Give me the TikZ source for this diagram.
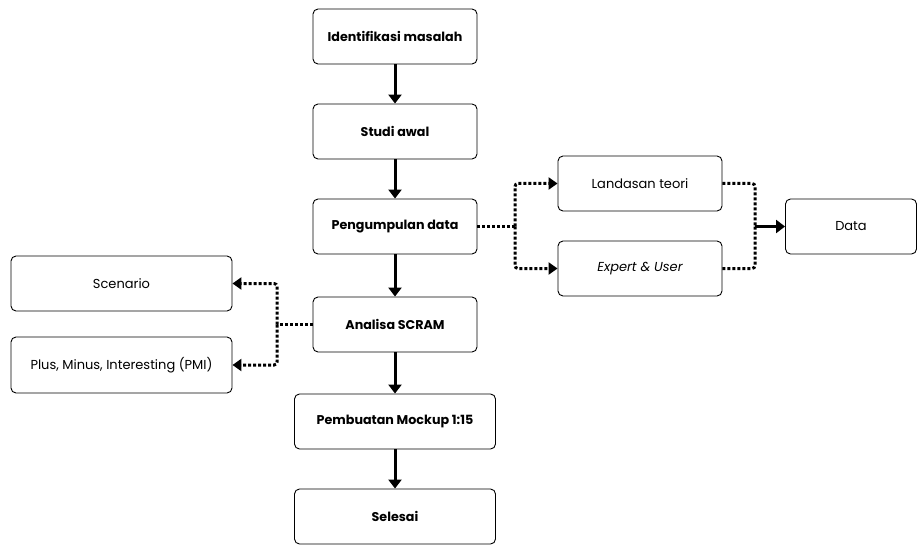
\documentclass[tikz,border=0pt]{standalone}
\usepackage{fontspec}
\setmainfont{Poppins}
\usetikzlibrary{arrows.meta}
\begin{document}
\begin{tikzpicture}[x=1pt,y=-1pt,
  box/.style={draw=black, line width=0.9pt, rounded corners=5pt, fill=white, minimum width=164pt, minimum height=55pt, inner sep=0pt, font=\fontsize{13pt}{15pt}\selectfont},
  mainbox/.style={box, font=\fontsize{12.7pt}{15pt}\selectfont\bfseries},
  solidarrow/.style={line width=3pt, -{Triangle[length=9pt,width=13pt]}},
  dotline/.style={line width=3pt, dash pattern=on 3pt off 2pt, rounded corners=3pt},
  dotarrow/.style={dotline, -{Triangle[length=9pt,width=12pt]}}]
\useasboundingbox (0,0) rectangle (917,545);
\node[mainbox] (a) at (395,36.5) {Identifikasi masalah};
\node[mainbox] (b) at (395,131.5) {Studi awal};
\node[mainbox] (c) at (395,226.5) {Pengumpulan data};
\node[mainbox] (d) at (395,324.5) {Analisa SCRAM};
\node[mainbox, minimum width=201pt] (e) at (395,421.5) {Pembuatan Mockup 1:15};
\node[mainbox, minimum width=201pt] (f) at (395,516.5) {Selesai};
\node[box] (l) at (640,183.5) {Landasan teori};
\node[box] (x) at (640,268.5) {\itshape Expert \& User};
\node[box, minimum width=131pt] (g) at (851,226.5) {Data};
\node[box, minimum width=221pt] (s) at (121.5,283.5) {Scenario};
\node[box, minimum width=221pt, minimum height=56pt] (p) at (121.5,365) {Plus, Minus, Interesting (PMI)};
\coordinate (j1) at (515,226.5);
\coordinate (j2) at (755,226.5);
\coordinate (j3) at (277,324.5);
\draw[solidarrow] (a) -- (b);
\draw[solidarrow] (b) -- (c);
\draw[solidarrow] (c) -- (d);
\draw[solidarrow] (d) -- (e);
\draw[solidarrow] (e) -- (f);
\draw[dotline] (c.east) -- (j1);
\draw[dotarrow] (j1) |- (l.west);
\draw[dotarrow] (j1) |- (x.west);
\draw[dotline] (l.east) -| (j2);
\draw[dotline] (x.east) -| (j2);
\draw[solidarrow, line width=2.4pt] (j2) -- (g.west);
\draw[dotline] (d.west) -- (j3);
\draw[dotarrow] (j3) |- (s.east);
\draw[dotarrow] (j3) |- (p.east);
\end{tikzpicture}
\end{document}
